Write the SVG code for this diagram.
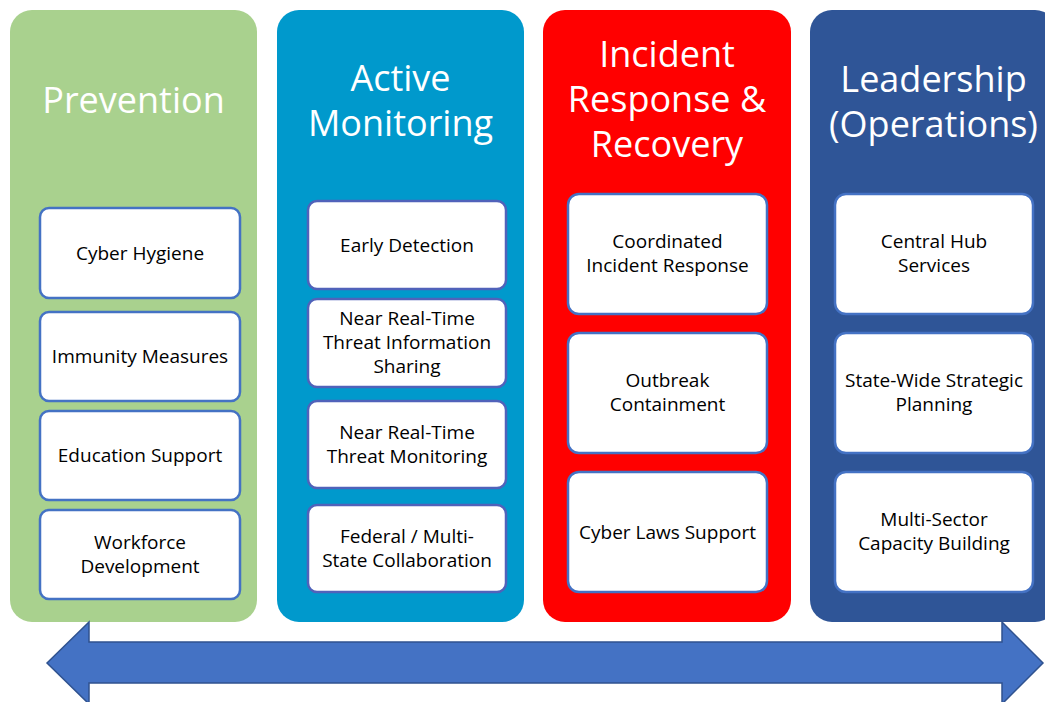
<svg xmlns="http://www.w3.org/2000/svg" width="1045" height="702" viewBox="0 0 1045 702">
<style>
.title{font-family:"Open Sans","Liberation Sans",sans-serif;font-size:36px;fill:#ffffff;text-anchor:middle}
.box{fill:#ffffff;stroke:#4472C4;stroke-width:2.5}
.box2{fill:#ffffff;stroke:#5062BA;stroke-width:2.5}
.lbl{font-family:"Open Sans","Liberation Sans",sans-serif;font-size:19px;fill:#000000;text-anchor:middle}
</style>
<rect width="1045" height="702" fill="#ffffff"/>
<g id="prevention">
<rect x="10" y="10" width="247" height="612" rx="22" fill="#A9D18E"/>
<text class="title" x="133.5" y="113">Prevention</text>
<g id="cyber-hygiene"><rect class="box" x="40" y="208" width="200" height="90" rx="9"/><text class="lbl" x="140" y="260">Cyber Hygiene</text></g>
<g id="immunity"><rect class="box" x="40" y="312" width="200" height="89" rx="9"/><text class="lbl" x="140" y="363">Immunity Measures</text></g>
<g id="education"><rect class="box" x="40" y="411" width="200" height="89" rx="9"/><text class="lbl" x="140" y="462">Education Support</text></g>
<g id="workforce"><rect class="box" x="40" y="510" width="200" height="89" rx="9"/><text class="lbl" x="140" y="549">Workforce</text><text class="lbl" x="140" y="573">Development</text></g>
</g>
<g id="monitoring">
<rect x="277" y="10" width="247" height="612" rx="22" fill="#0099CC"/>
<text class="title" x="400.5" y="91">Active</text>
<text class="title" x="400.5" y="136">Monitoring</text>
<g id="early-detection"><rect class="box2" x="308" y="201" width="198" height="88" rx="9"/><text class="lbl" x="407" y="252">Early Detection</text></g>
<g id="threat-sharing"><rect class="box2" x="308" y="299" width="198" height="88" rx="9"/><text class="lbl" x="407" y="325">Near Real-Time</text><text class="lbl" x="407" y="349">Threat Information</text><text class="lbl" x="407" y="373">Sharing</text></g>
<g id="threat-monitoring"><rect class="box2" x="308" y="401" width="198" height="87" rx="9"/><text class="lbl" x="407" y="439">Near Real-Time</text><text class="lbl" x="407" y="463">Threat Monitoring</text></g>
<g id="federal"><rect class="box2" x="308" y="505" width="198" height="87" rx="9"/><text class="lbl" x="407" y="543">Federal / Multi-</text><text class="lbl" x="407" y="567">State Collaboration</text></g>
</g>
<g id="incident">
<rect x="543" y="10" width="248" height="612" rx="22" fill="#FF0000"/>
<text class="title" x="667" y="67">Incident</text>
<text class="title" x="667" y="112">Response &amp;</text>
<text class="title" x="667" y="157">Recovery</text>
<g id="coordinated"><rect class="box" x="568" y="194" width="199" height="120" rx="11"/><text class="lbl" x="667.5" y="248">Coordinated</text><text class="lbl" x="667.5" y="272">Incident Response</text></g>
<g id="outbreak"><rect class="box" x="568" y="333" width="199" height="120" rx="11"/><text class="lbl" x="667.5" y="387">Outbreak</text><text class="lbl" x="667.5" y="411">Containment</text></g>
<g id="cyber-laws"><rect class="box" x="568" y="472" width="199" height="120" rx="11"/><text class="lbl" x="667.5" y="539">Cyber Laws Support</text></g>
</g>
<g id="leadership">
<rect x="810" y="10" width="247" height="612" rx="22" fill="#2F5597"/>
<text class="title" x="933.5" y="92">Leadership</text>
<text class="title" x="933.5" y="137">(Operations)</text>
<g id="central-hub"><rect class="box" x="835" y="194" width="198" height="120" rx="11"/><text class="lbl" x="934" y="248">Central Hub</text><text class="lbl" x="934" y="272">Services</text></g>
<g id="state-wide"><rect class="box" x="835" y="333" width="198" height="120" rx="11"/><text class="lbl" x="934" y="387">State-Wide Strategic</text><text class="lbl" x="934" y="411">Planning</text></g>
<g id="multi-sector"><rect class="box" x="835" y="472" width="198" height="120" rx="11"/><text class="lbl" x="934" y="526">Multi-Sector</text><text class="lbl" x="934" y="550">Capacity Building</text></g>
</g>
<g id="connectors">
<polygon points="47,663 89,622 89,642 1002,642 1002,622 1043,663 1002,704 1002,683 89,683 89,704" fill="#4472C4" stroke="#2F528F" stroke-width="1.5"/>
</g>
</svg>
